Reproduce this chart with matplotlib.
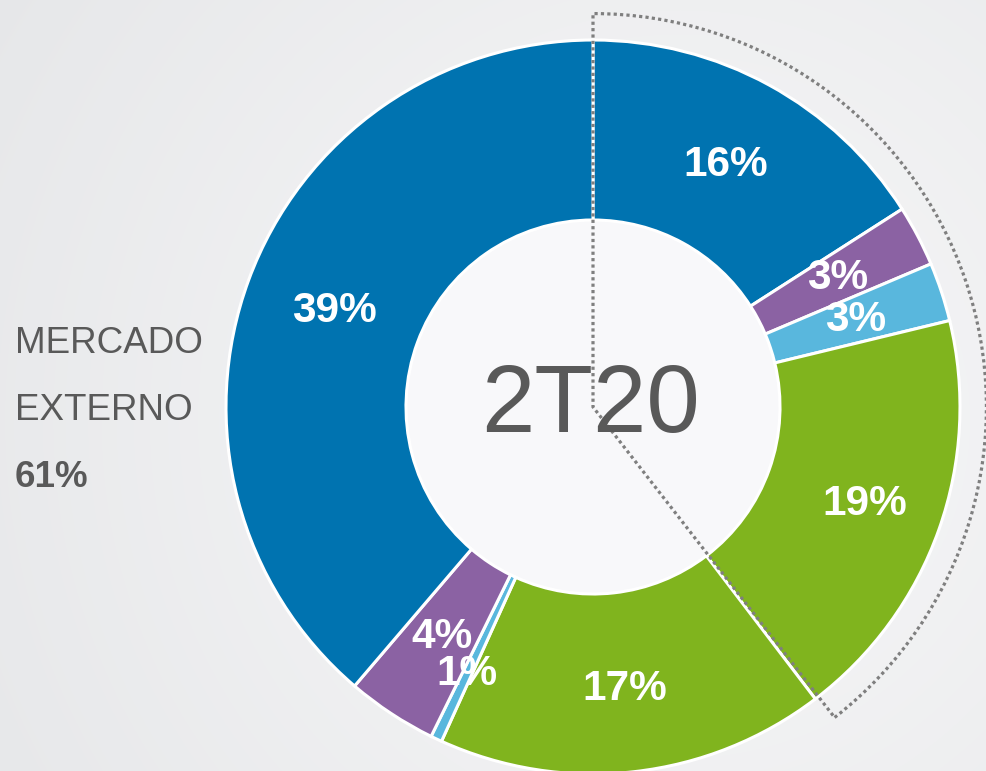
import numpy as np
import matplotlib
matplotlib.use("Agg")
import matplotlib.pyplot as plt
from matplotlib.patches import Circle, Wedge

# ---- data ----
segments = ["Seg1", "Seg2", "Seg3", "Seg4", "Seg5", "Seg6", "Seg7", "Seg8"]
values = [16.0, 2.7, 2.6, 18.5, 17.2, 0.5, 4.0, 38.9]
pct_labels = ["16%", "3%", "3%", "19%", "17%", "1%", "4%", "39%"]
center_label = "2T20"
side_lines = ["MERCADO", "EXTERNO"]
side_value = "61%"
highlight_count = 4  # first four segments enclosed by dotted outline

# ---- style ----
colors = ["#0073b0", "#8b62a3", "#59b7dd", "#80b41e", "#80b41e", "#59b7dd", "#8b62a3", "#0073b0"]
label_rf = [0.752, 0.752, 0.755, 0.787, 0.774, 0.805, 0.75, 0.752]
W, H = 986, 771
cx, cy = 593, 364
R, r_in = 367, 187
font = "Liberation Sans"
gray = "#595959"

fig = plt.figure(figsize=(W / 100, H / 100), dpi=100)

# background radial gradient
axbg = fig.add_axes([0, 0, 1, 1])
yy, xx = np.mgrid[0:H, 0:W]
d = np.clip(np.hypot(xx - 680, yy - 420) / 820.0, 0, 1)
c0 = np.array([0xf8, 0xf8, 0xf9]) / 255
c1 = np.array([0xe6, 0xe7, 0xe9]) / 255
img = c0[None, None, :] * (1 - d[..., None]) + c1[None, None, :] * d[..., None]
axbg.imshow(img, extent=[0, W, 0, H], origin="upper", aspect="auto")
axbg.axis("off")

ax = fig.add_axes([0, 0, 1, 1])
ax.patch.set_alpha(0)

ax.add_patch(Circle((cx, cy), r_in, facecolor="#f8f8fa", edgecolor="white", lw=1.5, zorder=0))

wedges, _ = ax.pie(values, colors=colors, startangle=90, counterclock=False,
                   radius=R, center=(cx, cy),
                   wedgeprops=dict(width=R - r_in, edgecolor="white", linewidth=2.2))

for w, lab, rf in zip(wedges, pct_labels, label_rf):
    mid = np.deg2rad((w.theta1 + w.theta2) / 2)
    ax.text(cx + rf * R * np.cos(mid), cy + rf * R * np.sin(mid), lab,
            ha="center", va="center", color="white", fontsize=30.5,
            fontweight="bold", family=font, zorder=5)

# dotted outline around highlighted segments
t_lo = wedges[highlight_count - 1].theta1
t_hi = wedges[0].theta2
ax.add_patch(Wedge((cx, cy), R * 1.072, t_lo + 0.6, t_hi, fill=False, edgecolor="#7f7f7f",
                   linestyle=(0, (1, 1)), linewidth=2.3, zorder=6))

ax.text(591, 339, center_label, ha="center", va="baseline", fontsize=69,
        color=gray, family=font, zorder=7)

ax.text(15, 418, side_lines[0], ha="left", va="baseline", fontsize=26.5, color=gray, family=font)
ax.text(15, 351, side_lines[1], ha="left", va="baseline", fontsize=26.5, color=gray, family=font)
ax.text(15, 284, side_value, ha="left", va="baseline", fontsize=26.5, color=gray,
        family=font, fontweight="bold")

ax.set_xlim(0, W)
ax.set_ylim(0, H)
ax.set_aspect("auto")
ax.axis("off")

fig.savefig("out.png", dpi=100)
